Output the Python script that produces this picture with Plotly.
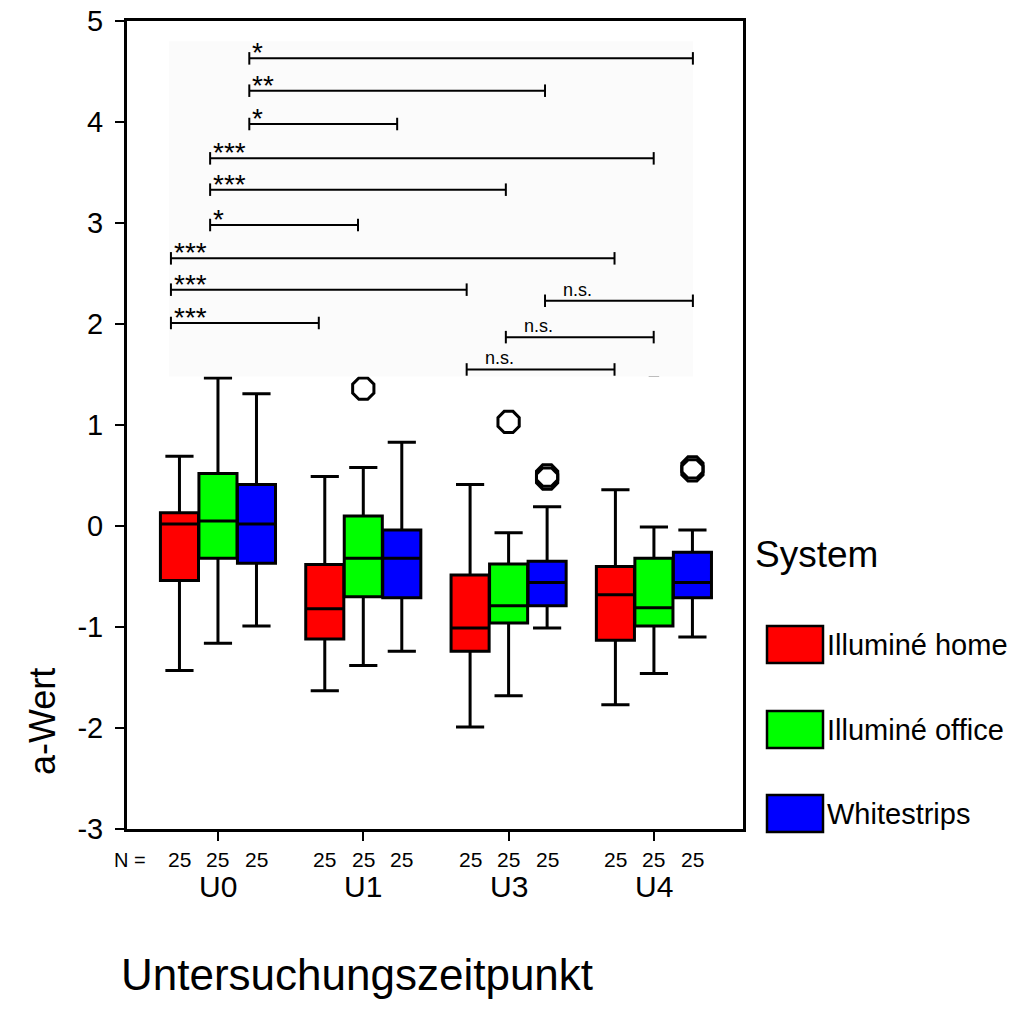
import plotly.graph_objects as go

# ---------------- data ----------------
times = ["U0", "U1", "U3", "U4"]
systems = ["Illuminé home", "Illuminé office", "Whitestrips"]
colors = ["#FF0000", "#00FF00", "#0000FF"]
n_per_box = [25, 25, 25]
y_ticks = [-3, -2, -1, 0, 1, 2, 3, 4, 5]
y_ticklabels = ["-3", "-2", "-1", "0", "1", "2", "3", "4", "5"]

home_q1 = [-0.54, -1.12, -1.24, -1.13]
home_med = [0.02, -0.82, -1.01, -0.68]
home_q3 = [0.13, -0.38, -0.485, -0.40]
home_lo = [-1.43, -1.63, -1.99, -1.77]
home_hi = [0.69, 0.49, 0.41, 0.36]

office_q1 = [-0.32, -0.70, -0.96, -0.99]
office_med = [0.05, -0.32, -0.79, -0.81]
office_q3 = [0.52, 0.10, -0.376, -0.32]
office_lo = [-1.16, -1.38, -1.68, -1.46]
office_hi = [1.465, 0.58, -0.066, -0.01]

white_q1 = [-0.37, -0.71, -0.79, -0.71]
white_med = [0.02, -0.32, -0.56, -0.56]
white_q3 = [0.41, -0.04, -0.35, -0.26]
white_lo = [-0.99, -1.24, -1.01, -1.10]
white_hi = [1.31, 0.83, 0.19, -0.04]

# outliers: (time index, value)
office_out_t = [1, 2, 3]
office_out_v = [1.36, 1.03, 1.60]
white_out_t = [2, 2, 3, 3]
white_out_v = [0.47, 0.50, 0.55, 0.58]

# significance comparisons: (time idx, system idx) -> (time idx, system idx)
bracket_from = [(0, 2), (0, 2), (0, 2), (0, 1), (0, 1), (0, 1), (0, 0), (0, 0), (0, 0), (2, 2), (2, 1), (2, 0)]
bracket_to = [(3, 2), (2, 2), (1, 2), (3, 1), (2, 1), (1, 1), (3, 0), (2, 0), (1, 0), (3, 2), (3, 1), (3, 0)]
bracket_labels = ["*", "**", "*", "***", "***", "*", "***", "***", "***", "n.s.", "n.s.", "n.s."]
bracket_y = [4.63, 4.31, 3.98, 3.64, 3.33, 2.98, 2.65, 2.34, 2.01, 2.23, 1.87, 1.55]

# ---------------- layout helpers ----------------
OFF = 8  # page body margin
W = H = 1022 - OFF
ML, MT = 127 - OFF, 21 - OFF
MR = W - (743 - OFF)
MB = H - (829 - OFF)
PW = W - ML - MR
PH = H - MT - MB
FONT = "Liberation Sans, Arial, Helvetica, sans-serif"
offsets = [-0.265, 0.0, 0.265]
BOXW = 0.262


def px_x(px):  # page pixel -> paper x
    return (px - OFF - ML) / PW


def px_y(py):  # page pixel -> paper y
    return (H - MB - (py - OFF)) / PH


stats = [
    (home_q1, home_med, home_q3, home_lo, home_hi),
    (office_q1, office_med, office_q3, office_lo, office_hi),
    (white_q1, white_med, white_q3, white_lo, white_hi),
]

fig = go.Figure()
for s, (q1, med, q3, lo, hi) in enumerate(stats):
    xs = [t + offsets[s] for t in range(len(times))]
    fig.add_trace(go.Box(
        x=xs, q1=q1, median=med, q3=q3, lowerfence=lo, upperfence=hi,
        name=systems[s], fillcolor=colors[s],
        line=dict(color="black", width=3),
        width=BOXW, whiskerwidth=0.74, boxpoints=False, showlegend=False,
        hoverinfo="skip",
    ))

for s, (ot, ov) in [(1, (office_out_t, office_out_v)), (2, (white_out_t, white_out_v))]:
    fig.add_trace(go.Scatter(
        x=[t + offsets[s] for t in ot], y=ov, mode="markers",
        marker=dict(symbol="octagon-open", size=23, color="black", line=dict(width=3, color="black")),
        showlegend=False, hoverinfo="skip", cliponaxis=False,
    ))

shapes = []
annotations = []

# overlay panel holding significance brackets
shapes.append(dict(type="rect", xref="x", yref="y", x0=-0.337, x1=3.269, y0=1.48, y1=4.80,
                   fillcolor="#fbfbfb", line=dict(width=0), layer="above"))


def bx(t, s):
    return -0.054 + 1.0175 * (t + offsets[s])


cap = 0.062
for (t0, s0), (t1, s1), lab, yv in zip(bracket_from, bracket_to, bracket_labels, bracket_y):
    x0, x1 = bx(t0, s0), bx(t1, s1)
    shapes.append(dict(type="line", xref="x", yref="y", x0=x0, x1=x1, y0=yv, y1=yv,
                       line=dict(color="black", width=2), layer="above"))
    for xx in (x0, x1):
        shapes.append(dict(type="line", xref="x", yref="y", x0=xx, x1=xx, y0=yv - cap, y1=yv + cap,
                           line=dict(color="black", width=2), layer="above"))
    if lab == "n.s.":
        annotations.append(dict(x=x0, y=yv, xref="x", yref="y", text=lab, showarrow=False,
                                xanchor="left", yanchor="bottom", xshift=16, yshift=-1,
                                font=dict(family=FONT, size=18, color="black")))
    else:
        annotations.append(dict(x=x0, y=yv, xref="x", yref="y", text=lab, showarrow=False,
                                xanchor="left", yanchor="bottom", xshift=1, yshift=-12,
                                font=dict(family=FONT, size=28, color="black")))

# N row and group labels
annotations.append(dict(x=px_x(130), y=px_y(860), xref="paper", yref="paper", text="N =",
                        showarrow=False, xanchor="center", yanchor="middle",
                        font=dict(family=FONT, size=20, color="black")))
for t in range(len(times)):
    for s in range(len(systems)):
        annotations.append(dict(x=t + offsets[s], y=px_y(860), xref="x", yref="paper",
                                text=str(n_per_box[s]), showarrow=False,
                                xanchor="center", yanchor="middle",
                                font=dict(family=FONT, size=21, color="black")))
    annotations.append(dict(x=t, y=px_y(886), xref="x", yref="paper", text=times[t],
                            showarrow=False, xanchor="center", yanchor="middle",
                            font=dict(family=FONT, size=30, color="black")))

# axis titles
annotations.append(dict(x=px_x(42), y=px_y(722), xref="paper", yref="paper", text="a-Wert",
                        textangle=-90, showarrow=False, xanchor="center", yanchor="middle",
                        font=dict(family=FONT, size=36, color="black")))
annotations.append(dict(x=px_x(357), y=px_y(974), xref="paper", yref="paper",
                        text="Untersuchungszeitpunkt", showarrow=False,
                        xanchor="center", yanchor="middle",
                        font=dict(family=FONT, size=44, color="black")))

# legend
annotations.append(dict(x=px_x(753), y=px_y(554), xref="paper", yref="paper", text="System",
                        showarrow=False, xanchor="left", yanchor="middle",
                        font=dict(family=FONT, size=37, color="black")))
sw_top = [626, 711, 795]
for s in range(len(systems)):
    shapes.append(dict(type="rect", xref="paper", yref="paper",
                       x0=px_x(767), x1=px_x(823), y0=px_y(sw_top[s] + 37), y1=px_y(sw_top[s]),
                       fillcolor=colors[s], line=dict(color="black", width=2.5)))
    annotations.append(dict(x=px_x(825), y=px_y(sw_top[s] + 19), xref="paper", yref="paper",
                            text=systems[s], showarrow=False, xanchor="left", yanchor="middle",
                            font=dict(family=FONT, size=29, color="black")))

fig.update_layout(
    width=W, height=H,
    margin=dict(l=ML, r=MR, t=MT, b=MB, autoexpand=False),
    paper_bgcolor="white", plot_bgcolor="white",
    boxmode="overlay",
    shapes=shapes, annotations=annotations,
    font=dict(family=FONT, color="black"),
    xaxis=dict(range=[-0.626, 3.613], tickvals=[0, 1, 2, 3], showticklabels=False,
               ticks="outside", ticklen=9, tickwidth=2, tickcolor="black",
               showline=True, linewidth=3, linecolor="black", mirror=True,
               showgrid=False, zeroline=False, automargin=False),
    yaxis=dict(range=[-3, 5], tickvals=y_ticks, ticktext=y_ticklabels,
               ticks="outside", ticklen=9, tickwidth=2,
               tickcolor="black", tickfont=dict(family=FONT, size=29, color="black"),
               ticklabelstandoff=6, ticklabeloverflow="allow",
               showline=True, linewidth=3, linecolor="black", mirror=True,
               showgrid=False, zeroline=False, automargin=False),
)

fig.write_html("out.html")
